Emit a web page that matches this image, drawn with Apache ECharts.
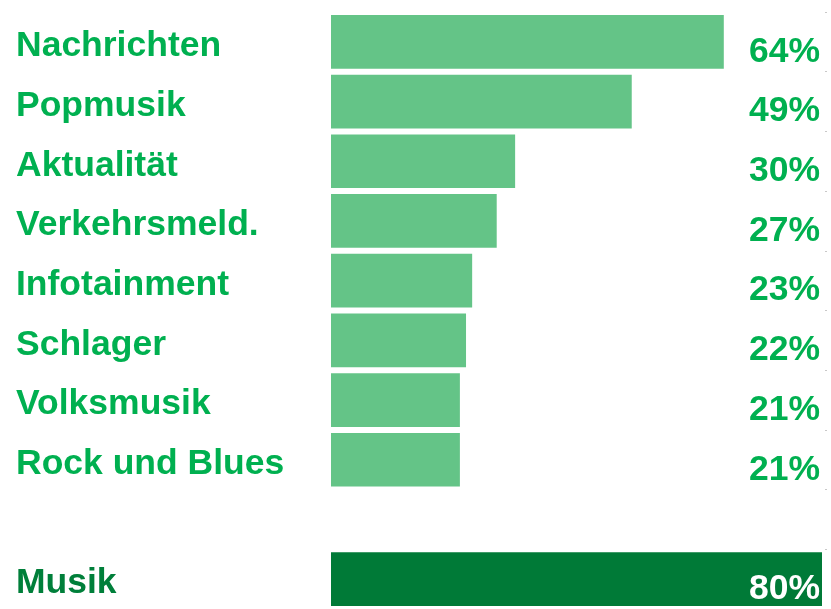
<!DOCTYPE html>
<html>
<head>
<meta charset="utf-8">
<script src="https://cdn.jsdelivr.net/npm/echarts@6/dist/echarts.min.js"></script>
<style>
html,body{margin:0;padding:0;background:#fff;}
#chart{width:831px;height:609px;}
</style>
</head>
<body>
<div id="chart"></div>
<script>
const categories = ['Nachrichten', 'Popmusik', 'Aktualität', 'Verkehrsmeld.', 'Infotainment', 'Schlager', 'Volksmusik', 'Rock und Blues', '', 'Musik'];
const values = [64, 49, 30, 27, 23, 22, 21, 21, null, 80];
const highlight = 'Musik';

const lightBar = '#64C487';
const darkBar = '#007A37';
const lightText = '#00B050';
const darkText = '#007F3A';

const chart = echarts.init(document.getElementById('chart'), null, {renderer: 'canvas'});
const font = '"Liberation Sans", Arial, sans-serif';
const fs = 35.5;

chart.setOption({
  animation: false,
  backgroundColor: '#ffffff',
  grid: {left: 331, right: 9, top: 12, height: 600},
  xAxis: {type: 'value', min: 0, max: 80, show: false},
  yAxis: [
    {
      type: 'category', data: categories, inverse: true, position: 'left',
      axisLine: {show: false}, axisTick: {show: false}, splitLine: {show: false},
      axisLabel: {
        align: 'left', margin: 315, padding: [9, 0, 0, 0],
        formatter: function (v) { return v === highlight ? '{d|' + v + '}' : '{l|' + v + '}'; },
        rich: {
          l: {color: lightText, fontSize: fs, fontWeight: 'bold', fontFamily: font},
          d: {color: darkText, fontSize: fs, fontWeight: 'bold', fontFamily: font}
        }
      }
    },
    {
      type: 'category', data: categories, inverse: true, position: 'right', offset: 3, z: 10,
      axisLine: {show: false},
      axisTick: {show: true, length: 2, lineStyle: {color: '#c8c8c8'}},
      splitLine: {show: false},
      axisLabel: {
        inside: true, align: 'right', margin: 5, padding: [20, 0, 0, 0],
        formatter: function (v, i) {
          const val = values[i];
          if (val === null || val === undefined) return '';
          return v === highlight ? '{w|' + val + '%}' : '{g|' + val + '%}';
        },
        rich: {
          g: {color: lightText, fontSize: fs, fontWeight: 'bold', fontFamily: font},
          w: {color: '#ffffff', fontSize: fs, fontWeight: 'bold', fontFamily: font}
        }
      }
    }
  ],
  series: [{
    type: 'bar',
    yAxisIndex: 0,
    barCategoryGap: '10%',
    data: values.map((v, i) => ({
      value: v,
      itemStyle: {color: categories[i] === highlight ? darkBar : lightBar}
    }))
  }]
});
</script>
</body>
</html>
